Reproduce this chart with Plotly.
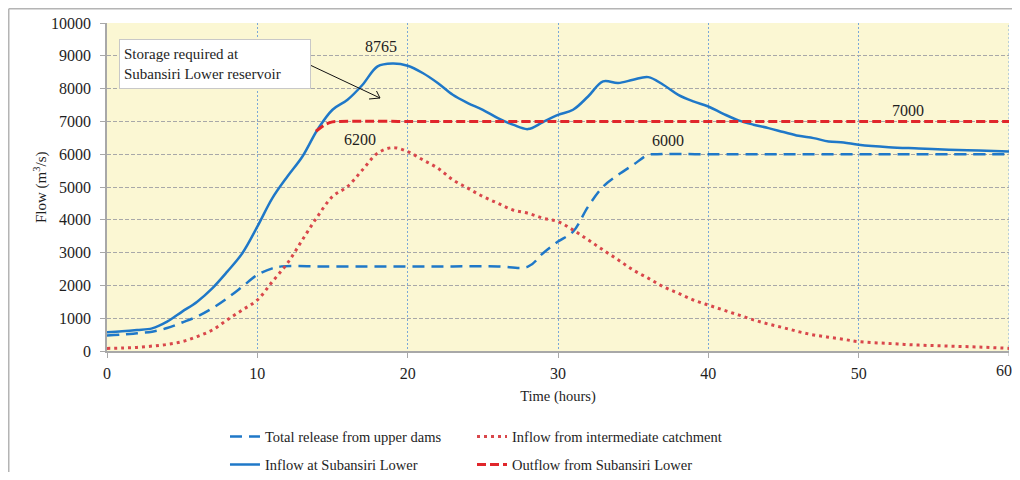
import plotly.graph_objects as go

# ---- data ----
t_inflow = [0, 1, 2, 3, 4, 5, 6, 7, 8, 9, 10, 11, 12, 13, 14, 15, 16, 17, 18, 19, 20,
            21, 22, 23, 24, 25, 26, 27, 28, 29, 30, 31, 32, 33, 34, 35, 36, 37, 38, 39, 40,
            41, 42, 43, 44, 45, 46, 47, 48, 49, 50, 52, 54, 56, 58, 60]
inflow_lower = [570, 600, 640, 690, 895, 1200, 1505, 1910, 2420, 2980, 3790, 4660, 5320, 5930,
                6745, 7355, 7660, 8117, 8677, 8765, 8697, 8475, 8170, 7810, 7560, 7355, 7100,
                6900, 6765, 6980, 7200, 7355, 7760, 8220, 8170, 8270, 8350, 8117, 7810, 7610,
                7455, 7230, 7030, 6900, 6795, 6675, 6560, 6490, 6390, 6357, 6290, 6215, 6175,
                6134, 6110, 6082]

t_release = [0, 1, 2, 3, 4, 5, 6, 7, 8, 9, 10, 11, 11.6, 14, 17, 20, 23, 26, 28, 29, 30, 31,
             32, 33, 34, 35, 36, 36.6, 40, 45, 50, 55, 60]
release_upper = [470, 500, 540, 590, 700, 870, 1050, 1300, 1610, 1960, 2320, 2520, 2580, 2580,
                 2580, 2580, 2580, 2580, 2570, 2980, 3335, 3640, 4400, 5010, 5370, 5675, 5980,
                 6000, 6000, 6000, 6000, 6000, 6000]

t_catch = [0, 1, 2, 3, 4, 5, 6, 7, 8, 9, 10, 11, 12, 13, 14, 15, 16, 17, 18, 19, 20, 21, 22,
           23, 24, 25, 26, 27, 28, 29, 30, 31, 32, 33, 34, 35, 36, 37, 38, 39, 40, 41, 42, 43,
           44, 45, 46, 47, 48, 49, 50, 52, 54, 56, 58, 60]
inflow_catch = [80, 90, 110, 150, 200, 285, 440, 640, 950, 1250, 1555, 2115, 2675, 3390, 4100,
                4710, 5015, 5525, 6030, 6200, 6080, 5830, 5575, 5220, 4965, 4710, 4505, 4300,
                4200, 4050, 3945, 3690, 3390, 3080, 2780, 2470, 2220, 1960, 1760, 1555, 1400,
                1250, 1100, 950, 820, 710, 590, 490, 420, 355, 285, 230, 180, 150, 120, 80]

t_outflow = [13.9, 14.5, 15, 15.5, 20, 30, 40, 50, 60]
outflow_lower = [6700, 6900, 6985, 7000, 7000, 7000, 7000, 7000, 7000]

x_ticks = [0, 10, 20, 30, 40, 50, 60]
y_ticks = [0, 1000, 2000, 3000, 4000, 5000, 6000, 7000, 8000, 9000, 10000]

peak_labels = [(18.2, 9280, "8765"), (16.8, 6440, "6200"), (37.3, 6420, "6000"), (53.3, 7320, "7000")]

BLUE = "#1F78C8"
RED_DASH = "#E0262B"
RED_DOT = "#D9474B"
FONT = "Liberation Serif"
TXT = "#1E1E1E"
AXIS_GRAY = "#A8A8A8"
VGRID = "#7AA8D8"

# page has an 8px body margin: figure is sized so that it fits the 1020x480 window
W, H = 1012, 464
ML, MR, MT = 99, 11, 15
PW, PH = 902, 328
MB = H - MT - PH

fig = go.Figure()
fig.add_trace(go.Scatter(x=t_release, y=release_upper, mode="lines", name="Total release from upper dams",
                         line=dict(color=BLUE, width=2.5, dash="12px,7px"), line_shape="spline",
                         legend="legend", legendgroup="a"))
fig.add_trace(go.Scatter(x=t_inflow, y=inflow_lower, mode="lines", name="Inflow at Subansiri Lower",
                         line=dict(color=BLUE, width=2.5), line_shape="spline", legend="legend",
                         legendgroup="b"))
fig.add_trace(go.Scatter(x=t_catch, y=inflow_catch, mode="lines", name="Inflow from intermediate catchment",
                         line=dict(color=RED_DOT, width=3, dash="3px,4px"), line_shape="spline",
                         legend="legend2", legendgroup="c"))
fig.add_trace(go.Scatter(x=t_outflow, y=outflow_lower, mode="lines", name="Outflow from Subansiri Lower",
                         line=dict(color=RED_DASH, width=3, dash="9px,4px"), line_shape="spline",
                         legend="legend2", legendgroup="d"))

for x, y, txt in peak_labels:
    fig.add_annotation(x=x, y=y, text=txt, showarrow=False, font=dict(family=FONT, size=16, color=TXT))

# storage box
fig.add_annotation(x=0.8, y=9512, xanchor="left", yanchor="top", showarrow=False,
                   text="Storage required at<br>Subansiri Lower reservoir", align="left",
                   font=dict(family=FONT, size=15, color=TXT), bgcolor="white",
                   bordercolor="#C8C8C8", borderwidth=1, borderpad=4, width=182, height=40)
# arrow line + open arrow head (pixel offsets from the head point)
HEAD_X, HEAD_Y = 18.16, 7713
for dx, dy in [(-70, 33), (-11, -1), (-3.5, 7)]:
    fig.add_shape(type="line", xref="x", yref="y", xsizemode="pixel", ysizemode="pixel",
                  xanchor=HEAD_X, yanchor=HEAD_Y, x0=0, y0=0, x1=dx, y1=dy,
                  line=dict(color="#111", width=1))

# y axis title
fig.add_annotation(xref="paper", yref="paper", x=(32 - ML) / PW, y=0.5, xanchor="center",
                   yanchor="middle", text="Flow (m<sup>3</sup>/s)",
                   textangle=-90, showarrow=False, font=dict(family=FONT, size=15, color=TXT))

# last x tick: label kept fully inside the visible page, grid line and tick mark drawn as shapes
fig.add_annotation(xref="paper", yref="paper", x=(PW + 5) / PW, y=0, yshift=-9, xanchor="right",
                   yanchor="top", text=str(x_ticks[-1]), showarrow=False,
                   font=dict(family=FONT, size=16, color=TXT))
fig.add_shape(type="line", xref="x", yref="paper", x0=x_ticks[-1], x1=x_ticks[-1], y0=0, y1=1,
              line=dict(color=VGRID, width=1, dash="2px,2px"), layer="below")
fig.add_shape(type="line", xref="x", yref="paper", x0=x_ticks[-1], x1=x_ticks[-1], y0=0, y1=-5 / PH,
              line=dict(color=AXIS_GRAY, width=1))

# outer frame (left and top visible)
fx0 = (0.75 - ML) / PW
fy0 = (MT + PH - 0.75) / PH
fig.add_shape(type="line", xref="paper", yref="paper", x0=fx0, x1=1.05, y0=fy0, y1=fy0,
              line=dict(color="#B4B4B4", width=1.5))
fig.add_shape(type="line", xref="paper", yref="paper", x0=fx0, x1=fx0, y0=fy0, y1=-0.5,
              line=dict(color="#B4B4B4", width=1.5))

leg_top = 412.6
leg_common = dict(xanchor="left", yanchor="top", orientation="v", xref="container", yref="container",
                  y=1 - leg_top / H,
                  font=dict(family=FONT, size=14.5, color=TXT), bgcolor="rgba(0,0,0,0)",
                  tracegroupgap=6, itemwidth=30)

fig.update_layout(
    width=W, height=H,
    margin=dict(l=ML, r=MR, t=MT, b=MB, autoexpand=False),
    paper_bgcolor="white", plot_bgcolor="#FBF7D3",
    font=dict(family=FONT, size=15, color=TXT),
    showlegend=True,
    legend=dict(x=0.2144, **leg_common),
    legend2=dict(x=0.4585, **leg_common),
    xaxis=dict(range=[0, 60], tickvals=x_ticks[:-1],
               ticktext=[str(v) for v in x_ticks[:-1]],
               showgrid=True, gridcolor=VGRID, griddash="2px,2px", gridwidth=1,
               showline=True, linecolor=AXIS_GRAY, linewidth=1.5, ticks="outside",
               tickcolor=AXIS_GRAY, ticklen=5, zeroline=False, ticklabelstandoff=2,
               tickfont=dict(family=FONT, size=16, color=TXT),
               title=dict(text="Time (hours)", standoff=10, font=dict(family=FONT, size=14.5))),
    yaxis=dict(range=[0, 10000], tickvals=y_ticks, ticktext=[str(v) for v in y_ticks],
               showgrid=True, gridcolor=AXIS_GRAY, griddash="4px,2px", gridwidth=1,
               showline=True, linecolor=AXIS_GRAY, linewidth=1.5, ticks="outside",
               tickcolor=AXIS_GRAY, ticklen=5, zeroline=False, ticklabelstandoff=6,
               tickfont=dict(family=FONT, size=16, color=TXT)),
)

fig.write_html("out.html")
